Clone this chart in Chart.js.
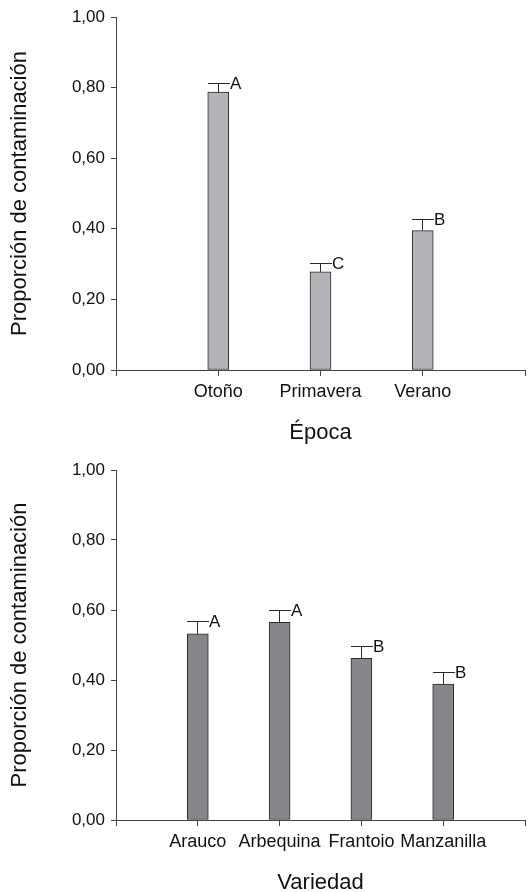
<!DOCTYPE html>
<html>
<head>
<meta charset="utf-8">
<script src="https://cdn.jsdelivr.net/npm/chart.js@4/dist/chart.umd.min.js"></script>
<style>
  html, body { margin: 0; padding: 0; background: #ffffff; overflow: hidden; }
  canvas { position: absolute; left: 0; }
  #chartEpoca { top: 0; }
  #chartVariedad { top: 450px; }
</style>
</head>
<body>
<canvas id="chartEpoca" width="530" height="446"></canvas>
<canvas id="chartVariedad" width="530" height="446"></canvas>
<script>
// Proportion of contaminated samples by season
const epocaCategories = ['Otoño', 'Primavera', 'Verano'];
const epocaValues = [0.787, 0.278, 0.395];
const epocaErrors = [0.024, 0.025, 0.030];
const epocaLetters = ['A', 'C', 'B'];

// Proportion of contaminated samples by olive variety
const variedadCategories = ['Arauco', 'Arbequina', 'Frantoio', 'Manzanilla'];
const variedadValues = [0.532, 0.565, 0.462, 0.388];
const variedadErrors = [0.034, 0.033, 0.033, 0.034];
const variedadLetters = ['A', 'A', 'B', 'B'];

const yTickLabels = ['0,00', '0,20', '0,40', '0,60', '0,80', '1,00'];
const yAxisTitle = 'Proporción de contaminación';

const FONT = '"Liberation Sans", Arial, Helvetica, sans-serif';
const AXIS_COLOR = '#444444';
const INK = '#2a2a2a';

// Error bars (upper whisker with cap) and significance letters
const errorBarPlugin = {
  id: 'errorBars',
  afterDatasetsDraw(chart, args, opts) {
    const { ctx } = chart;
    const x = chart.scales.x;
    const y = chart.scales.y;
    const data = chart.data.datasets[0].data;
    const half = 10.5;
    ctx.save();
    ctx.strokeStyle = INK;
    ctx.lineWidth = 1;
    ctx.fillStyle = '#111111';
    ctx.font = '17px ' + FONT;
    ctx.textAlign = 'left';
    ctx.textBaseline = 'middle';
    data.forEach((v, i) => {
      if (v === null || v === undefined) return;
      const e = opts.errors[i];
      const cx = Math.round(x.getPixelForValue(i) - 0.5) + 0.5;
      const yBar = y.getPixelForValue(v);
      const yTop = Math.round(y.getPixelForValue(v + e) - 0.5) + 0.5;
      ctx.beginPath();
      ctx.moveTo(cx, yBar);
      ctx.lineTo(cx, yTop);
      ctx.moveTo(cx - half, yTop);
      ctx.lineTo(cx + half + 1, yTop);
      ctx.stroke();
      ctx.fillText(opts.letters[i], cx + half + 1, yTop + 1);
    });
    ctx.restore();
  }
};

function buildChart(canvasId, categories, values, errors, letters, fill, xTitle, padTop) {
  // empty slots at both ends keep the bars away from the axis ends
  const labels = [''].concat(categories, ['']);
  const data = [null].concat(values, [null]);
  const errs = [null].concat(errors, [null]);
  const lets = [''].concat(letters, ['']);

  return new Chart(document.getElementById(canvasId), {
    type: 'bar',
    data: {
      labels: labels,
      datasets: [{
        data: data,
        backgroundColor: fill,
        borderColor: INK,
        borderWidth: 1,
        borderSkipped: false,
        barThickness: 21
      }]
    },
    options: {
      responsive: false,
      animation: false,
      devicePixelRatio: 1,
      layout: { padding: { top: padTop, right: 4, left: 0, bottom: 0 } },
      plugins: {
        legend: { display: false },
        tooltip: { enabled: false },
        errorBars: { errors: errs, letters: lets }
      },
      scales: {
        x: {
          type: 'category',
          offset: false,
          grid: {
            display: true,
            offset: false,
            drawOnChartArea: false,
            drawTicks: true,
            tickLength: 6,
            color: AXIS_COLOR
          },
          border: { display: true, color: AXIS_COLOR, width: 1 },
          ticks: {
            autoSkip: false,
            maxRotation: 0,
            minRotation: 0,
            padding: 5,
            color: '#111111',
            font: { family: FONT, size: 18 }
          },
          title: {
            display: true,
            text: xTitle,
            color: '#111111',
            font: { family: FONT, size: 22 },
            padding: { top: 0, bottom: 0 }
          },
          afterFit(scale) { scale.height = 76; }
        },
        y: {
          min: 0,
          max: 1,
          grid: {
            display: true,
            drawOnChartArea: false,
            drawTicks: true,
            tickLength: 5,
            color: AXIS_COLOR
          },
          border: { display: true, color: AXIS_COLOR, width: 1 },
          ticks: {
            stepSize: 0.2,
            padding: 6,
            color: '#111111',
            font: { family: FONT, size: 17 },
            callback: (value, index) => yTickLabels[index]
          },
          title: {
            display: true,
            text: yAxisTitle,
            color: '#111111',
            font: { family: FONT, size: 22 },
            padding: { top: 7, bottom: 0 }
          },
          afterFit(scale) { scale.width = 116; }
        }
      }
    },
    plugins: [errorBarPlugin]
  });
}

buildChart('chartEpoca', epocaCategories, epocaValues, epocaErrors, epocaLetters,
  '#b3b4b8', 'Época', 17);
buildChart('chartVariedad', variedadCategories, variedadValues, variedadErrors, variedadLetters,
  '#86878b', 'Variedad', 20);
</script>
</body>
</html>
